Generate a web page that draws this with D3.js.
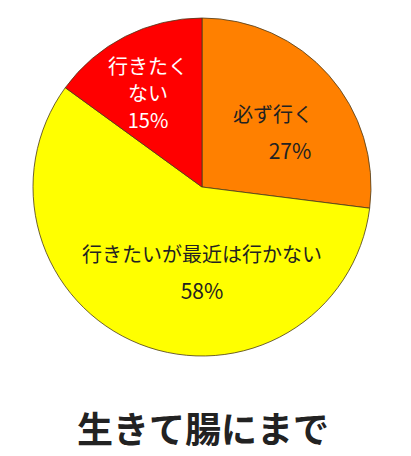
<!DOCTYPE html>
<html>
<head>
<meta charset="utf-8">
<script src="https://cdn.jsdelivr.net/npm/d3@7"></script>
<style>
  html, body { margin: 0; padding: 0; background: #fff; }
  svg { display: block; }
</style>
</head>
<body>
<div id="chart"></div>
<script>
// data
var categories = ['必ず行く', '行きたいが最近は行かない', '行きたくない']
var values = [27, 58, 15]
var labelLines = [['必ず行く'], ['行きたいが最近は行かない'], ['行きたく', 'ない']]
var colors = ['#ff8000', '#ffff00', '#ff0000']
var textColors = ['#222', '#222', '#fff']
var title = '生きて腸にまで'

var width = 411, height = 456
var cx = 202, cy = 187, radius = 169

// label anchor offsets from centre (dx, dy of first line)
var labelAnchor = [[71, -65], [0, 75], [-54, -113]]

var svg = d3.select('#chart').append('svg')
    .attr('width', width)
    .attr('height', height)

var pie = d3.pie().sort(null).value(function(d){ return d })
var arcs = pie(values)
var arc = d3.arc().innerRadius(0).outerRadius(radius)

var g = svg.append('g').attr('transform', 'translate(' + cx + ',' + cy + ')')

g.selectAll('path.slice')
    .data(arcs)
    .enter().append('path')
    .attr('class', 'slice')
    .attr('d', arc)
    .attr('fill', function(d, i){ return colors[i] })
    .attr('stroke', '#4a3a1a')
    .attr('stroke-width', 0.8)

var font = '"Noto Sans CJK JP", "Noto Sans", sans-serif'

arcs.forEach(function(d, i) {
    var a = labelAnchor[i]
    var lines = labelLines[i].slice()
    var pitch = 26.5
    var gap = i == 2 ? 27.5 : 37
    var t = g.append('text')
        .attr('text-anchor', 'middle')
        .attr('font-family', font)
        .attr('font-size', 20)
        .attr('fill', textColors[i])
    lines.forEach(function(l, j) {
        t.append('tspan')
            .attr('x', a[0])
            .attr('y', a[1] + j * pitch)
            .text(l)
    })
    t.append('tspan')
        .attr('x', a[0] + (i == 0 ? 17 : 0))
        .attr('y', a[1] + (lines.length - 1) * pitch + gap)
        .attr('font-size', i == 2 ? 20 : 21)
        .text(values[i] + '%')
})

svg.append('text')
    .attr('x', 203)
    .attr('y', 443)
    .attr('text-anchor', 'middle')
    .attr('font-family', font)
    .attr('font-weight', 'bold')
    .attr('font-size', 36)
    .attr('fill', '#222')
    .text(title)
</script>
</body>
</html>
